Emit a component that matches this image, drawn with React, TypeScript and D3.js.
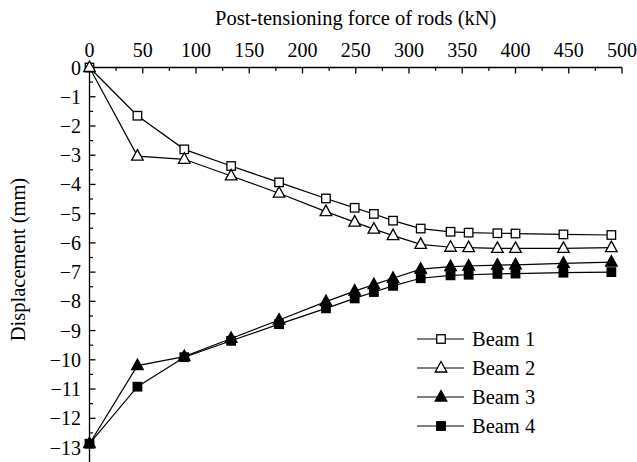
import React from "react";
import * as d3 from "d3";

const forces = [0, 45, 89, 133, 178, 222, 249, 267, 285, 311, 339, 356, 383, 400, 445, 490];
const beam1 = [0, -1.65, -2.8, -3.37, -3.93, -4.48, -4.8, -5.01, -5.24, -5.51, -5.62, -5.65, -5.67, -5.68, -5.71, -5.73];
const beam2 = [0, -3.03, -3.14, -3.71, -4.3, -4.93, -5.29, -5.53, -5.75, -6.05, -6.15, -6.16, -6.19, -6.19, -6.19, -6.16];
const beam3 = [-12.87, -10.2, -9.89, -9.27, -8.64, -8.01, -7.65, -7.43, -7.21, -6.9, -6.81, -6.79, -6.76, -6.75, -6.7, -6.66];
const beam4 = [-12.87, -10.92, -9.91, -9.35, -8.78, -8.24, -7.9, -7.68, -7.47, -7.21, -7.11, -7.09, -7.06, -7.05, -7.02, -7.0];
const seriesNames = ["Beam 1", "Beam 2", "Beam 3", "Beam 4"];
const xTicks = [0, 50, 100, 150, 200, 250, 300, 350, 400, 450, 500];
const yTicks = [0, -1, -2, -3, -4, -5, -6, -7, -8, -9, -10, -11, -12, -13];

const W = 637, H = 462;
const FONT = "Liberation Serif, serif";

type Kind = "sqOpen" | "triOpen" | "triFill" | "sqFill";
const kinds: Kind[] = ["sqOpen", "triOpen", "triFill", "sqFill"];

function Marker({ kind, cx, cy }: { kind: Kind; cx: number; cy: number }) {
  if (kind === "sqOpen" || kind === "sqFill") {
    const s = 8.5;
    return (
      <rect x={cx - s / 2} y={cy - s / 2} width={s} height={s}
        fill={kind === "sqFill" ? "#000" : "#fff"} stroke="#000" strokeWidth={1.3} />
    );
  }
  const d = `M${cx},${cy - 6.5}L${cx + 5.8},${cy + 4}L${cx - 5.8},${cy + 4}Z`;
  return <path d={d} fill={kind === "triFill" ? "#000" : "#fff"} stroke="#000" strokeWidth={1.3} strokeLinejoin="miter" />;
}

export default function App() {
  const x = d3.scaleLinear().domain([0, 500]).range([89.5, 622]);
  const y = d3.scaleLinear().domain([0, -13]).range([67.5, 447.5]);
  const series = [beam1, beam2, beam3, beam4];
  const line = d3.line<[number, number]>().x((d) => x(d[0])).y((d) => y(d[1]));
  const xMinor = d3.range(25, 500, 50);
  const yMinor = d3.range(-0.5, -13, -1);
  const fmt = (v: number) => (v < 0 ? "\u2212" + Math.abs(v) : String(v));

  const legX = 417, legY0 = 339, legDY = 29;

  return (
    <svg width={W} height={H} fontFamily={FONT}
      style={{ position: "absolute", left: 0, top: 0, background: "#fff" }}>
      <rect width={W} height={H} fill="#fff" />
      <text x={(x(0) + x(500)) / 2} y={25} fontSize={20.5} textAnchor="middle" fill="#000">
        Post-tensioning force of rods (kN)
      </text>
      <text transform={`translate(25, ${(y(0) + y(-13)) / 2 + 2}) rotate(-90)`} fontSize={20.5}
        textAnchor="middle" fill="#000">
        Displacement (mm)
      </text>
      <line x1={x(0)} x2={x(500)} y1={y(0)} y2={y(0)} stroke="#000" strokeWidth={1.3} />
      {xTicks.map((t) => (
        <g key={"xt" + t}>
          {t > 0 && <line x1={x(t)} x2={x(t)} y1={y(0)} y2={y(0) + 6} stroke="#000" strokeWidth={1.3} />}
          <text x={x(t)} y={57} fontSize={20} textAnchor="middle" fill="#000">{t}</text>
        </g>
      ))}
      {xMinor.map((t) => (
        <line key={"xm" + t} x1={x(t)} x2={x(t)} y1={y(0)} y2={y(0) + 3.5} stroke="#000" strokeWidth={1.2} />
      ))}
      <line x1={x(0)} x2={x(0)} y1={y(0)} y2={H} stroke="#000" strokeWidth={1.3} />
      {yTicks.map((t) => (
        <g key={"yt" + t}>
          {t < 0 && <line x1={x(0)} x2={x(0) + 6} y1={y(t)} y2={y(t)} stroke="#000" strokeWidth={1.3} />}
          <text x={81} y={y(t) + 7} fontSize={20} textAnchor="end" fill="#000">{fmt(t)}</text>
        </g>
      ))}
      {yMinor.map((t) => (
        <line key={"ym" + t} x1={x(0)} x2={x(0) + 3.5} y1={y(t)} y2={y(t)} stroke="#000" strokeWidth={1.2} />
      ))}
      {series.map((vals, i) => (
        <g key={"s" + i}>
          <path d={line(forces.map((f, j) => [f, vals[j]] as [number, number])) || ""}
            fill="none" stroke="#000" strokeWidth={1.2} />
          {forces.map((f, j) => (
            <Marker key={j} kind={kinds[i]} cx={x(f)} cy={y(vals[j])} />
          ))}
        </g>
      ))}
      {seriesNames.map((name, i) => {
        const ly = legY0 + i * legDY;
        return (
          <g key={"l" + i}>
            <line x1={legX} x2={legX + 47} y1={ly} y2={ly} stroke="#000" strokeWidth={1.2} />
            <Marker kind={kinds[i]} cx={legX + 24} cy={ly} />
            <text x={472} y={ly + 7} fontSize={20.5} fill="#000">{name}</text>
          </g>
        );
      })}
    </svg>
  );
}
